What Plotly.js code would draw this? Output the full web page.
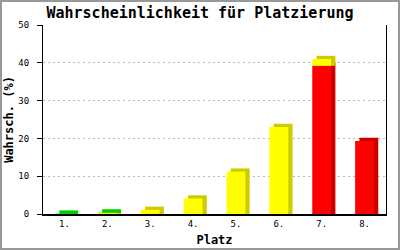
<!DOCTYPE html>
<html>
<head>
<meta charset="utf-8">
<script src="https://cdn.plot.ly/plotly-3.0.1.min.js"></script>
<style>
  html, body { margin: 0; padding: 0; background: #fff; }
  #wrap { position: relative; width: 400px; height: 250px; }
  #chart { position: absolute; left: 0; top: 0; width: 400px; height: 250px; }
  #frame { position: absolute; left: 0; top: 0; width: 400px; height: 250px; box-sizing: border-box; border: 2px solid #999; pointer-events: none; }
</style>
</head>
<body>
<div id="wrap"><div id="chart"></div><div id="frame"></div></div>
<script>
// Data
const places = ['1.', '2.', '3.', '4.', '5.', '6.', '7.', '8.'];
const redValues    = [0, 0, 0, 0, 0, 0, 39.2, 19.3];
const yellowValues = [0, 0.3, 1.1, 4.1, 11.2, 23.0, 1.8, 0];
const greenValues  = [0.1, 0.1, 0, 0, 0, 0, 0, 0];

// Styling of the pseudo-3D bars
const series = [
  { vals: redValues,    front: '#ff0000', side: '#cc0000' },
  { vals: yellowValues, front: '#ffff00', side: '#cccc00' },
  { vals: greenValues,  front: '#00ee00', side: '#00cc00' }
];
const barW = 0.44;     // bar width in category units
const depthX = 0.1;    // 3D depth offset (category units)
const depthY = 0.85;   // 3D depth offset (value units)

const cum = places.map(() => 0);
const shadowTraces = [];
const frontTraces = [];
series.forEach(s => {
  const base = cum.slice();
  shadowTraces.push({
    type: 'bar', x: places,
    y: s.vals.map(v => v > 0 ? v + depthY : null),
    base: base, width: barW, offset: -barW / 2 + depthX,
    marker: { color: s.side, line: { width: 0 } },
    hoverinfo: 'skip', showlegend: false
  });
  frontTraces.push({
    type: 'bar', x: places,
    y: s.vals.map(v => v > 0 ? v : null),
    base: base, width: barW, offset: -barW / 2,
    marker: { color: s.front, line: { width: 0 } },
    hoverinfo: 'skip', showlegend: false
  });
  s.vals.forEach((v, i) => { cum[i] += v; });
});

const mono = 'DejaVu Sans Mono, Liberation Mono, monospace';
const layout = {
  width: 400, height: 250,
  margin: { l: 43, r: 14, t: 25, b: 36 },
  paper_bgcolor: '#fff', plot_bgcolor: '#fff',
  barmode: 'overlay',
  showlegend: false,
  title: {
    text: '<b>Wahrscheinlichkeit für Platzierung</b>',
    font: { family: mono, size: 15, color: '#000' },
    x: 0.5, xanchor: 'center', xref: 'container',
    y: 0.948, yanchor: 'middle', yref: 'container'
  },
  xaxis: {
    type: 'category', range: [-0.5, 7.5],
    showline: true, linecolor: '#000', linewidth: 2,
    ticks: '', showgrid: false, zeroline: false,
    tickfont: { family: mono, size: 9, color: '#000' },
    title: { text: '<b>Platz</b>', font: { family: mono, size: 12, color: '#000' }, standoff: 8 }
  },
  yaxis: {
    range: [0, 50], dtick: 10, tick0: 0,
    showline: true, linecolor: '#000', linewidth: 1, mirror: true,
    ticks: 'outside', ticklen: 5, tickcolor: '#000', tickwidth: 1,
    ticklabelstandoff: 6,
    showgrid: true, gridcolor: '#bbbbbb', griddash: '2px,3px', gridwidth: 1,
    zeroline: false,
    tickfont: { family: mono, size: 9, color: '#000' },
    title: { text: '<b>Wahrsch. (%)</b>', font: { family: mono, size: 12, color: '#000' }, standoff: 2 }
  }
};

Plotly.newPlot('chart', shadowTraces.concat(frontTraces), layout, { staticPlot: true, displayModeBar: false });
</script>
</body>
</html>
